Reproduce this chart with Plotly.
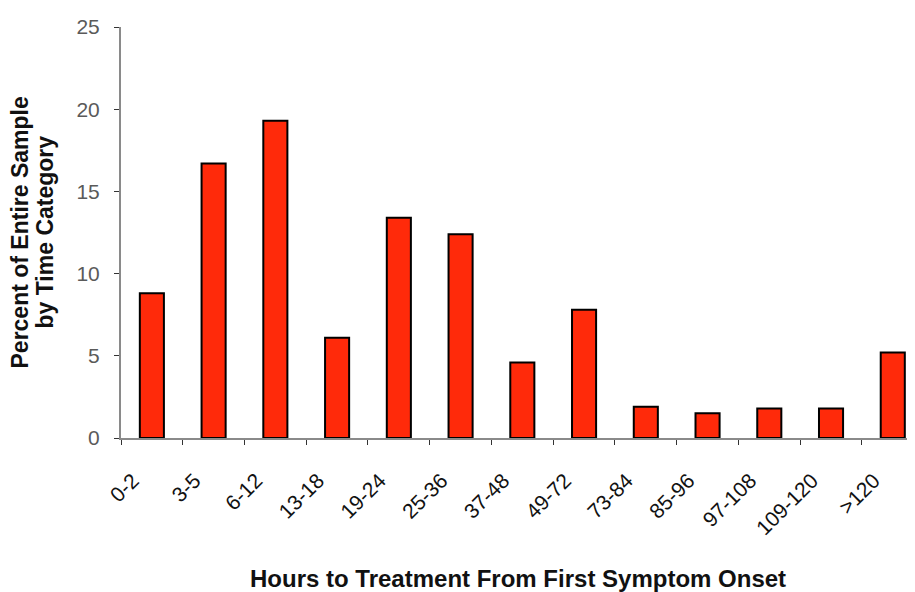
import plotly.graph_objects as go

categories = ["0-2", "3-5", "6-12", "13-18", "19-24", "25-36", "37-48",
              "49-72", "73-84", "85-96", "97-108", "109-120", ">120"]
percent = [8.8, 16.7, 19.3, 6.1, 13.4, 12.4, 4.6, 7.8, 1.9, 1.5, 1.8, 1.8, 5.2]
y_ticks = [0, 5, 10, 15, 20, 25]
y_title_lines = ["Percent of Entire Sample", "by Time Category"]
x_title = "Hours to Treatment From First Symptom Onset"

fig = go.Figure()
fig.add_trace(go.Bar(
    x=categories, y=percent, width=0.39,
    marker=dict(color="#ff2a0a", line=dict(color="#000000", width=2)),
))

annotations = []
for line, shift in zip(y_title_lines, [-102, -77]):
    annotations.append(dict(
        text="<b>" + line + "</b>", xref="paper", yref="paper",
        x=0, y=0.5, xshift=shift, xanchor="center", yanchor="middle",
        textangle=-90, showarrow=False, font=dict(size=23, color="#111")))
annotations.append(dict(
    text="<b>" + x_title + "</b>", xref="paper", yref="paper",
    x=0.5, y=0, yshift=-140, xanchor="center", yanchor="middle",
    showarrow=False, font=dict(size=24, color="#111")))

fig.update_layout(
    width=907, height=584,
    margin=dict(l=113, r=0, t=19, b=154),
    paper_bgcolor="white", plot_bgcolor="white",
    showlegend=False,
    font=dict(family="Liberation Sans, Arial, sans-serif", color="#222"),
    annotations=annotations,
)
fig.update_xaxes(
    type="category", range=[-0.5, 12.36],
    showline=True, linecolor="#8a8a8a", linewidth=2,
    ticks="outside", tickson="boundaries", ticklen=5, tickcolor="#333", tickwidth=1,
    tickangle=-45, tickfont=dict(size=21, color="#111"),
    ticklabelshift=-19, ticklabelstandoff=20,
    showgrid=False, zeroline=False,
)
fig.update_yaxes(
    range=[0, 25], tickvals=y_ticks,
    showline=True, linecolor="#8a8a8a", linewidth=2,
    ticks="outside", ticklen=5, tickcolor="#333", tickwidth=1,
    tickfont=dict(size=21, color="#5a5a5a"),
    showgrid=False, zeroline=False, ticklabelstandoff=10,
)

fig.write_html("out.html")
